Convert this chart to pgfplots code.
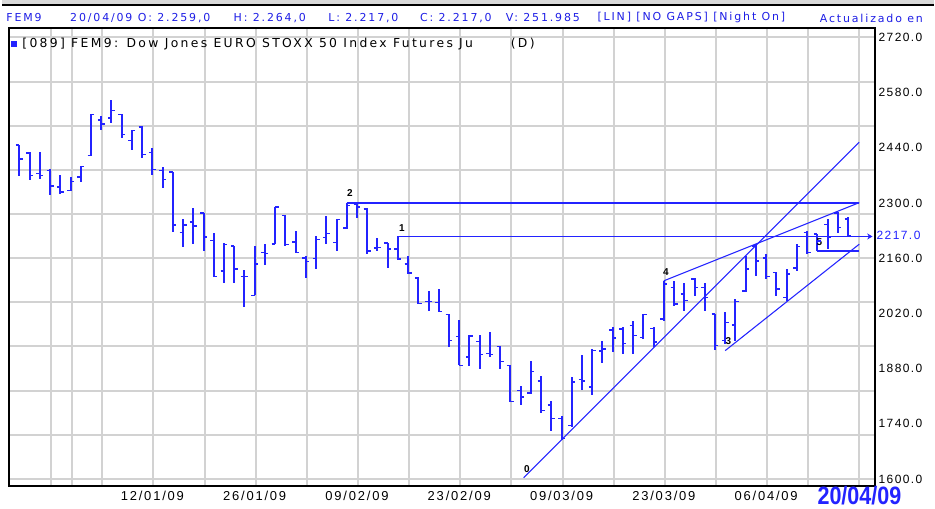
\documentclass[border=0pt]{standalone}
\usepackage{fontspec}
\setmainfont{Liberation Sans}
\usepackage{pgfplots}
\pgfplotsset{compat=1.18}
\usepackage{pgfplotstable}
\usetikzlibrary{arrows.meta}
\newfontfamily\hdr[LetterSpace=17]{DejaVu Sans}
\newfontfamily\lgd[LetterSpace=19]{DejaVu Sans}
\newfontfamily\lbl[LetterSpace=12]{Liberation Sans}
\newfontfamily\dlbl[LetterSpace=14]{Liberation Sans}
\definecolor{bluec}{RGB}{35,35,255}
\definecolor{hdrc}{RGB}{30,30,230}
\definecolor{gridc}{RGB}{210,210,210}
\pgfdeclareplotmark{otick}{\pgfpathmoveto{\pgfqpoint{-2.6pt}{0pt}}\pgfpathlineto{\pgfqpoint{0pt}{0pt}}\pgfusepathqstroke}
\pgfdeclareplotmark{ctick}{\pgfpathmoveto{\pgfqpoint{0pt}{0pt}}\pgfpathlineto{\pgfqpoint{2.6pt}{0pt}}\pgfusepathqstroke}

\pgfplotstableread{
i O H L C
0 2447 2448 2369 2412
1 2427 2429 2358 2370
2 2375 2429 2362 2369
3 2383 2385 2319 2343
4 2340 2371 2323 2328
5 2332 2366 2330 2355
6 2366 2393 2354 2392
7 2420 2525 2419 2524
8 2511 2520 2484 2500
9 2515 2562 2503 2535
10 2524 2525 2465 2473
11 2459 2486 2434 2484
12 2493 2495 2414 2423
13 2428 2440 2372 2385
14 2383 2391 2339 2360
15 2378 2378 2227 2244
16 2225 2259 2189 2244
17 2252 2287 2197 2242
18 2274 2275 2177 2214
19 2205 2225 2113 2113
20 2128 2198 2097 2195
21 2191 2191 2097 2132
22 2113 2130 2035 2113
23 2066 2191 2066 2145
24 2174 2195 2143 2172
25 2196 2290 2196 2290
26 2268 2269 2191 2194
27 2201 2230 2173 2174
28 2161 2165 2109 2152
29 2159 2217 2132 2208
30 2212 2267 2195 2222
31 2200 2260 2177 2258
32 2237 2300 2235 2294
33 2296 2297 2261 2290
34 2285 2286 2170 2178
35 2186 2212 2178 2187
36 2198 2198 2135 2183
37 2183 2215 2156 2158
38 2145 2166 2120 2122
39 2110 2111 2044 2045
40 2050 2077 2027 2050
41 2048 2083 2023 2025
42 2017 2018 1934 1951
43 1962 2004 1888 1888
44 1909 1964 1886 1963
45 1948 1964 1879 1915
46 1918 1972 1909 1916
47 1936 1938 1879 1898
48 1888 1888 1795 1797
49 1825 1837 1787 1808
50 1818 1900 1816 1873
51 1848 1861 1768 1774
52 1788 1799 1722 1753
53 1753 1760 1700 1702
54 1736 1858 1732 1846
55 1852 1915 1825 1848
56 1833 1930 1812 1926
57 1925 1949 1895 1930
58 1978 1985 1922 1957
59 1980 1985 1917 1943
60 1989 2000 1917 1964
61 1959 2018 1955 2017
62 1981 1985 1934 1947
63 2006 2102 2001 2094
64 2086 2103 2039 2044
65 2069 2098 2027 2052
66 2107 2109 2065 2086
67 2086 2098 2027 2060
68 2018 2018 1926 1938
69 1951 2023 1942 1997
70 1990 2056 1951 2050
71 2077 2166 2073 2132
72 2191 2195 2115 2153
73 2160 2170 2107 2113
74 2124 2124 2065 2082
75 2060 2132 2052 2120
76 2135 2195 2128 2190
77 2225 2229 2170 2174
78 2221 2222 2178 2204
79 2246 2259 2183 2212
80 2275 2277 2225 2238
81 2259 2264 2217 2217
}\ohlc

\begin{document}
\begin{tikzpicture}[x=0.75pt,y=0.75pt]
\fill[white] (0,0) rectangle (935,510);
\fill[gray!30] (0,506) rectangle (935,510);
\draw[black, line width=1.2pt] (0,505) -- (935,505);

\begin{axis}[
  at={(5.25pt,16.5pt)}, anchor=south west,
  scale only axis, width=651.75pt, height=345pt,
  xmin=-1.004, xmax=83.68, ymin=1581, ymax=2744,
  axis line style={black, line width=1.5pt},
  xtick={3.1,5.1,8.1,13.1,18.1,23.1,28.1,33.1,38.1,43.1,48.1,53.1,58.1,63.1,68.1,73.1,77.1,82.1},
  ytick={1600,1712,1824,1936,2048,2160,2272,2384,2496,2608,2720},
  xticklabels={}, yticklabels={},
  major tick length=0pt,
  grid=major, grid style={line width=1.5pt, color=gridc},
]
% high-low bars
\addplot[draw=none, mark=none, forget plot,
  error bars/.cd, y dir=both, y explicit, error mark=none,
  error bar style={draw=bluec, line width=1.5pt}]
  table[x=i, y expr={(\thisrow{H}+\thisrow{L})/2}, y error expr={(\thisrow{H}-\thisrow{L})/2}] {\ohlc};
% open ticks
\addplot[only marks, mark=otick, draw=bluec, mark options={line width=1.1pt, draw=bluec}] table[x=i, y=O] {\ohlc};
% close ticks
\addplot[only marks, mark=ctick, draw=bluec, mark options={line width=1.1pt, draw=bluec}] table[x=i, y=C] {\ohlc};
% horizontal levels
\addplot[bluec, line width=1.1pt] coordinates {(32,2300) (82.1,2300)};
\addplot[bluec, line width=1.1pt] coordinates {(37,2215) (82.1,2215)};
\addplot[bluec, line width=1.1pt] coordinates {(78,2178.5) (82.1,2178.5)};
\addplot[bluec, line width=1.1pt, -{Stealth[length=4pt,width=4.5pt]}] coordinates {(82.1,2215) (83.4,2215)};
% trend lines
\addplot[bluec, line width=0.8pt] coordinates {(49.3,1603) (82.1,2454)};
\addplot[bluec, line width=0.8pt] coordinates {(63,2102.6) (82.1,2300.8)};
\addplot[bluec, line width=0.8pt] coordinates {(69,1925.6) (82.1,2195.4)};
% point labels
\node[font=\fontsize{7.5pt}{8pt}\selectfont\bfseries, inner sep=0] at (axis cs:32.3,2324) {2};
\node[font=\fontsize{7.5pt}{8pt}\selectfont\bfseries, inner sep=0] at (axis cs:37.4,2236) {1};
\node[font=\fontsize{7.5pt}{8pt}\selectfont\bfseries, inner sep=0] at (axis cs:49.6,1624) {0};
\node[font=\fontsize{7.5pt}{8pt}\selectfont\bfseries, inner sep=0] at (axis cs:63.2,2124) {4};
\node[font=\fontsize{7.5pt}{8pt}\selectfont\bfseries, inner sep=0] at (axis cs:69.3,1950) {3};
\node[font=\fontsize{7.5pt}{8pt}\selectfont\bfseries, inner sep=0] at (axis cs:78.2,2200) {5};
\end{axis}

% header
\begin{scope}[every node/.style={anchor=west, inner sep=0, text=hdrc, font=\hdr\fontsize{8.25pt}{10pt}\selectfont}]
\node at (4,492) {FEM9};
\node at (68,492) {20/04/09};
\node at (136,492) {O: 2.259,0};
\node at (232,492) {H: 2.264,0};
\node at (327,492) {L: 2.217,0};
\node at (419,492) {C: 2.217,0};
\node at (505,492) {V: 251.985};
\node at (597,492) {[LIN] [NO GAPS] [Night On]};
\node at (820,492) {Actualizado en};
\end{scope}

% legend
\fill[bluec] (9,463) rectangle (15,469);
\node[anchor=west, inner sep=0, font=\lgd\fontsize{9.3pt}{11pt}\selectfont] at (20,466) {[089] FEM9: Dow Jones EURO STOXX 50 Index Futures Ju};
\node[anchor=west, inner sep=0, font=\lgd\fontsize{9.3pt}{11pt}\selectfont] at (510,466) {(D)};

% right axis labels
\begin{scope}[every node/.style={anchor=west, inner sep=0, font=\lbl\fontsize{9pt}{10pt}\selectfont}]
\node at (879,472.5) {2720.0};
\node at (879,417.1) {2580.0};
\node at (879,361.8) {2440.0};
\node at (879,306.4) {2300.0};
\node at (879,251.0) {2160.0};
\node at (879,195.6) {2020.0};
\node at (879,140.3) {1880.0};
\node at (879,84.9) {1740.0};
\node at (879,29.5) {1600.0};
\node[text=bluec] at (877,273.5) {2217.0};
\end{scope}

% date labels
\begin{scope}[every node/.style={anchor=center, inner sep=0, font=\dlbl\fontsize{9.75pt}{11pt}\selectfont}]
\node at (150.7,13) {12/01/09};
\node at (253.3,13) {26/01/09};
\node at (356.0,13) {09/02/09};
\node at (458.6,13) {23/02/09};
\node at (561.2,13) {09/03/09};
\node at (663.8,13) {23/03/09};
\node at (766.4,13) {06/04/09};
\end{scope}
\node[anchor=center, inner sep=0, text=bluec, font=\fontsize{18pt}{20pt}\selectfont\bfseries] at (860,13) {\scalebox{0.9}[1.05]{20/04/09}};
\end{tikzpicture}
\end{document}
